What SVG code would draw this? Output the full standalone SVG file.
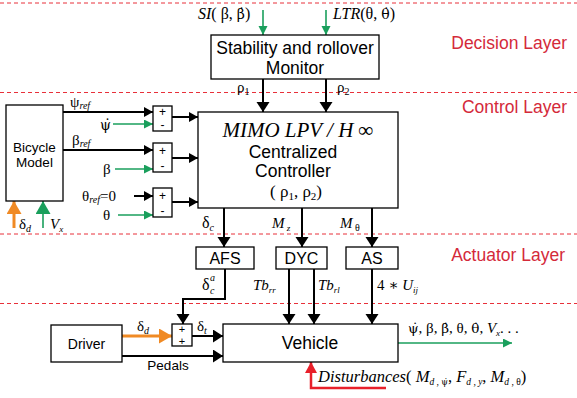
<svg xmlns="http://www.w3.org/2000/svg" width="577" height="398" viewBox="0 0 577 398">
<defs>
<style>
.box{fill:#fff;stroke:#000;stroke-width:1.3}
.sans{font-family:"Liberation Sans",Arial,sans-serif;fill:#000}
.serif{font-family:"Liberation Serif","DejaVu Serif",serif;fill:#000}
.dj{font-family:"DejaVu Serif",serif}
.it{font-style:italic}
.layer{font-family:"Liberation Sans",Arial,sans-serif;font-size:17.5px;fill:#d42a3a;text-anchor:end}
.dash{stroke:#e8303a;stroke-width:1;stroke-dasharray:4,3}
.blk{stroke:#000;stroke-width:2;fill:none}
.grn{stroke:#1a9f5c;stroke-width:1.6;fill:none}
.org{stroke:#f08a24;stroke-width:3;fill:none}
.red{stroke:#e8202a;stroke-width:2.5;fill:none}
</style>
<marker id="ab" markerUnits="userSpaceOnUse" markerWidth="14" markerHeight="14" refX="10" refY="6.5" orient="auto"><path d="M0,0 L10,6.5 L0,13 Z" fill="#000"/></marker>
<marker id="abs" markerUnits="userSpaceOnUse" markerWidth="12" markerHeight="12" refX="9" refY="5" orient="auto"><path d="M0,0 L9,5 L0,10 Z" fill="#000"/></marker>
<marker id="ag" markerUnits="userSpaceOnUse" markerWidth="12" markerHeight="12" refX="9" refY="4.5" orient="auto"><path d="M0,0 L9,4.5 L0,9 Z" fill="#1a9f5c"/></marker>
<marker id="ao" markerUnits="userSpaceOnUse" markerWidth="16" markerHeight="16" refX="13" refY="7.5" orient="auto"><path d="M0,0 L13,7.5 L0,15 Z" fill="#f08a24"/></marker>
<marker id="agb" markerUnits="userSpaceOnUse" markerWidth="16" markerHeight="16" refX="13" refY="7.5" orient="auto"><path d="M0,0 L13,7.5 L0,15 Z" fill="#1a9f5c"/></marker>
<marker id="ar" markerUnits="userSpaceOnUse" markerWidth="14" markerHeight="14" refX="11" refY="6" orient="auto"><path d="M0,0 L11,6 L0,12 Z" fill="#e8202a"/></marker>
</defs>

<g id="layers">
<line class="dash" x1="0" y1="3" x2="577" y2="3"/>
<line class="dash" x1="0" y1="92.5" x2="577" y2="92.5"/>
<line class="dash" x1="0" y1="234" x2="577" y2="234"/>
<line class="dash" x1="0" y1="303.5" x2="577" y2="303.5"/>
<text class="layer" x="567" y="49">Decision Layer</text>
<text class="layer" x="567" y="113">Control Layer</text>
<text class="layer" x="565" y="261">Actuator Layer</text>
</g>

<g id="connectors">
<line class="grn" x1="263" y1="10" x2="263" y2="35" marker-end="url(#ag)"/>
<line class="grn" x1="326" y1="10" x2="326" y2="35" marker-end="url(#ag)"/>
<line class="blk" x1="263" y1="79" x2="263" y2="112" marker-end="url(#ab)"/>
<line class="blk" x1="326" y1="79" x2="326" y2="112" marker-end="url(#ab)"/>
<line class="blk" x1="63" y1="112" x2="153" y2="112" marker-end="url(#abs)"/>
<line class="blk" x1="63" y1="150" x2="153" y2="150" marker-end="url(#abs)"/>
<line class="blk" x1="134" y1="196" x2="153" y2="196" marker-end="url(#abs)"/>
<line class="grn" x1="113" y1="124" x2="153" y2="124" marker-end="url(#ag)"/>
<line class="grn" x1="115" y1="169" x2="153" y2="169" marker-end="url(#ag)"/>
<line class="grn" x1="118" y1="215" x2="153" y2="215" marker-end="url(#ag)"/>
<line class="blk" x1="172" y1="117" x2="198" y2="117" stroke-width="1.3" marker-end="url(#abs)"/>
<line class="blk" x1="172" y1="158" x2="198" y2="158" stroke-width="1.3" marker-end="url(#abs)"/>
<line class="blk" x1="172" y1="202" x2="198" y2="202" stroke-width="1.3" marker-end="url(#abs)"/>
<line class="org" x1="14" y1="228" x2="14" y2="201" marker-end="url(#ao)"/>
<line class="grn" x1="43" y1="228" x2="43" y2="201" stroke-width="3" marker-end="url(#agb)"/>
<line class="blk" x1="224" y1="208" x2="224" y2="247" marker-end="url(#ab)"/>
<line class="blk" x1="302" y1="208" x2="302" y2="247" marker-end="url(#ab)"/>
<line class="blk" x1="372" y1="208" x2="372" y2="247" marker-end="url(#ab)"/>
<polyline class="blk" points="225,269 225,299 183,299 183,324" marker-end="url(#ab)"/>
<line class="blk" x1="289" y1="269" x2="289" y2="324" marker-end="url(#ab)"/>
<line class="blk" x1="314" y1="269" x2="314" y2="324" marker-end="url(#ab)"/>
<line class="blk" x1="372" y1="269" x2="372" y2="324" marker-end="url(#ab)"/>
<line class="org" x1="122" y1="336" x2="172" y2="336" marker-end="url(#ao)"/>
<line class="blk" x1="192" y1="336" x2="223" y2="336" marker-end="url(#ab)"/>
<line class="blk" x1="122" y1="356" x2="223" y2="356" marker-end="url(#ab)"/>
<line class="grn" x1="398" y1="343" x2="512" y2="343" marker-end="url(#ag)"/>
<polyline class="red" points="386,388 311,388 311,362" marker-end="url(#ar)"/>
</g>

<g id="monitor">
<rect class="box" x="211" y="35" width="168" height="44"/>
<text class="sans" x="295" y="54" font-size="17.5" text-anchor="middle">Stability and rollover</text>
<text class="sans" x="295" y="74" font-size="17.5" text-anchor="middle">Monitor</text>
</g>

<g id="controller">
<rect class="box" x="198" y="112" width="200" height="96"/>
<text class="serif it" x="298" y="137" font-size="21" text-anchor="middle">MIMO LPV / H ∞</text>
<text class="sans" x="293" y="158" font-size="17.5" text-anchor="middle">Centralized</text>
<text class="sans" x="293" y="177" font-size="17.5" text-anchor="middle">Controller</text>
<text class="serif" x="296" y="197" font-size="17" text-anchor="middle">( ρ<tspan font-size="11" dy="3">1</tspan><tspan dy="-3">, ρ</tspan><tspan font-size="11" dy="3">2</tspan><tspan dy="-3">)</tspan></text>
</g>

<g id="bicycle">
<rect class="box" x="6" y="105" width="57" height="96"/>
<text class="sans" x="34.5" y="152" font-size="13.5" text-anchor="middle">Bicycle</text>
<text class="sans" x="34.5" y="167" font-size="13.5" text-anchor="middle">Model</text>
</g>

<g id="sum1">
<rect class="box" x="153" y="106" width="19" height="25"/>
<text class="sans" x="162.5" y="116" font-size="12" text-anchor="middle">+</text>
<text class="sans" x="162.5" y="129" font-size="12" text-anchor="middle">-</text>
</g>
<g id="sum2">
<rect class="box" x="153" y="143" width="19" height="29"/>
<text class="sans" x="162.5" y="155" font-size="12" text-anchor="middle">+</text>
<text class="sans" x="162.5" y="170" font-size="12" text-anchor="middle">-</text>
</g>
<g id="sum3">
<rect class="box" x="153" y="188" width="19" height="29"/>
<text class="sans" x="162.5" y="200" font-size="12" text-anchor="middle">+</text>
<text class="sans" x="162.5" y="215" font-size="12" text-anchor="middle">-</text>
</g>

<g id="afs">
<rect class="box" x="196" y="247" width="58" height="22"/>
<text class="sans" x="225" y="264" font-size="16" text-anchor="middle">AFS</text>
</g>
<g id="dyc">
<rect class="box" x="276" y="247" width="51" height="22"/>
<text class="sans" x="301.5" y="264" font-size="16" text-anchor="middle">DYC</text>
</g>
<g id="as">
<rect class="box" x="346" y="247" width="52" height="22"/>
<text class="sans" x="372" y="264" font-size="16" text-anchor="middle">AS</text>
</g>

<g id="driver">
<rect class="box" x="51" y="325" width="71" height="37"/>
<text class="sans" x="86.5" y="349" font-size="14" text-anchor="middle">Driver</text>
</g>
<g id="sum4">
<rect class="box" x="172" y="324" width="20" height="22"/>
<text class="sans" x="182" y="333" font-size="11" text-anchor="middle">+</text>
<text class="sans" x="182" y="345" font-size="11" text-anchor="middle">+</text>
</g>
<g id="vehicle">
<rect class="box" x="223" y="324" width="175" height="38"/>
<text class="sans" x="310" y="349" font-size="17.5" text-anchor="middle">Vehicle</text>
</g>

<g id="labels">
<text class="serif" x="198" y="19" font-size="16"><tspan class="it">SI</tspan>( β, <tspan class="dj" font-size="14">β̇</tspan>)</text>
<text class="serif" x="333" y="19" font-size="16"><tspan class="it">LTR</tspan>(θ, <tspan class="dj" font-size="14">θ̇</tspan>)</text>
<text class="serif" x="237" y="92" font-size="15">ρ<tspan font-size="10" dy="3">1</tspan></text>
<text class="serif" x="337" y="92" font-size="15">ρ<tspan font-size="10" dy="3">2</tspan></text>
<text class="serif" x="70" y="107" font-size="15">ψ<tspan class="it" font-size="10" dy="2">ref</tspan></text>
<text class="serif dj" x="100" y="130" font-size="14">ψ̇</text>
<text class="serif" x="72" y="145" font-size="15">β<tspan class="it" font-size="10" dy="2">ref</tspan></text>
<text class="serif" x="103" y="174" font-size="15">β</text>
<text class="serif" x="82" y="201" font-size="15">θ<tspan class="it" font-size="10" dy="2">ref</tspan><tspan dy="-2">=0</tspan></text>
<text class="serif" x="103" y="220" font-size="15">θ</text>
<text class="serif" x="19" y="229" font-size="15">δ<tspan class="it" font-size="10" dy="3">d</tspan></text>
<text class="serif it" x="50" y="229" font-size="15">V<tspan font-size="9" dy="3">x</tspan></text>
<text class="serif" x="202" y="228" font-size="16">δ<tspan class="it" font-size="10" dy="3">c</tspan></text>
<text class="serif it" x="272" y="228" font-size="15">M<tspan font-size="9" dy="3"> z</tspan></text>
<text class="serif it" x="340" y="228" font-size="15">M<tspan font-style="normal" font-size="10" dy="3"> θ</tspan></text>
<text class="serif" x="202" y="290" font-size="16">δ</text>
<text class="serif it" x="210" y="281" font-size="10">a</text>
<text class="serif it" x="210" y="294" font-size="10">c</text>
<text class="serif it" x="253" y="290" font-size="15">Tb<tspan font-size="9" dy="3">rr</tspan></text>
<text class="serif it" x="318" y="290" font-size="15">Tb<tspan font-size="9" dy="3">rl</tspan></text>
<text class="serif" x="377" y="290" font-size="15">4 ∗ <tspan class="it">U</tspan><tspan class="it" font-size="9" dy="3">ij</tspan></text>
<text class="serif" x="137" y="331" font-size="15">δ<tspan class="it" font-size="10" dy="3">d</tspan></text>
<text class="serif" x="197" y="331" font-size="15">δ<tspan class="it" font-size="10" dy="3">t</tspan></text>
<text class="sans" x="168" y="370" font-size="13.5" text-anchor="middle">Pedals</text>
<text class="serif" x="408" y="333" font-size="15"><tspan class="dj" font-size="13.5">ψ̇</tspan>, β, <tspan class="dj" font-size="13.5">β̇</tspan>, θ, <tspan class="dj" font-size="13.5">θ̇</tspan>, <tspan class="it">V</tspan><tspan class="it" font-size="9" dy="3">x</tspan><tspan dy="-3">. . .</tspan></text>
<text class="serif" x="318" y="382" font-size="16.5"><tspan class="it">Disturbances</tspan>( <tspan class="it">M</tspan><tspan font-size="9.5" dy="3"><tspan class="it">d</tspan> , <tspan class="dj" font-size="8.5">ψ̇</tspan></tspan><tspan dy="-3">, </tspan><tspan class="it">F</tspan><tspan font-size="9.5" dy="3" class="it">d , y</tspan><tspan dy="-3">, </tspan><tspan class="it">M</tspan><tspan font-size="9.5" dy="3"><tspan class="it">d</tspan> , θ</tspan><tspan dy="-3">)</tspan></text>
</g>
</svg>
